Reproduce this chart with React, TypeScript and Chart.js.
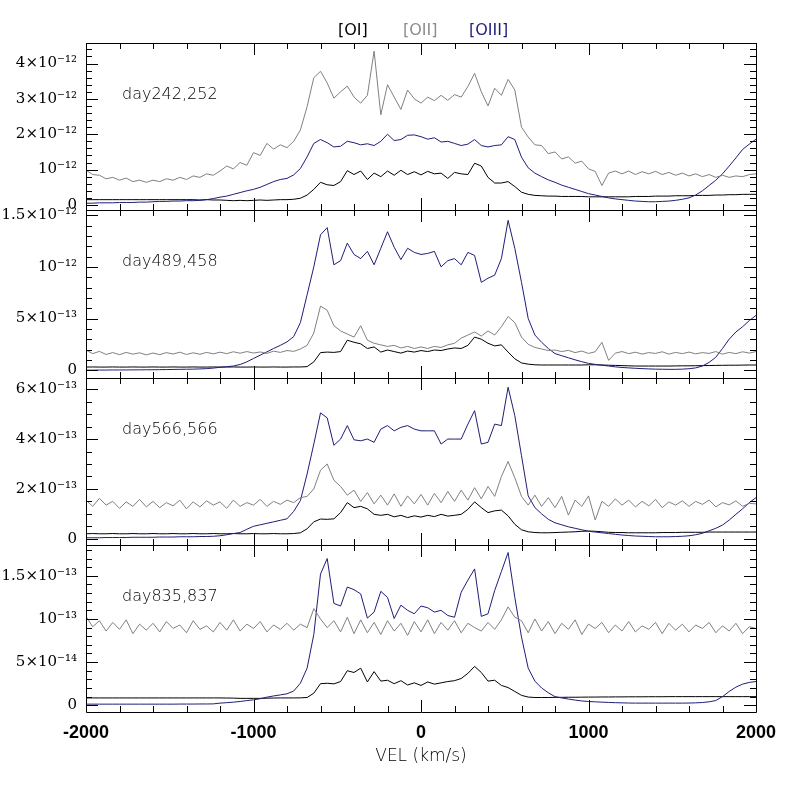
import { useEffect, useRef } from "react";
import { Chart, registerables } from "chart.js";

Chart.register(...registerables);

// velocity grid (km/s)
const VEL = [
  -2000, -1960, -1920, -1880, -1840, -1800, -1760, -1720, -1680, -1640,
  -1600, -1560, -1520, -1480, -1440, -1400, -1360, -1320, -1280, -1240,
  -1200, -1160, -1120, -1080, -1040, -1000, -960, -920, -880, -840,
  -800, -760, -720, -680, -640, -600, -560, -520, -480, -440,
  -400, -360, -320, -280, -240, -200, -160, -120, -80, -40,
  0, 40, 80, 120, 160, 200, 240, 280, 320, 360,
  400, 440, 480, 520, 560, 600, 640, 680, 720, 760,
  800, 840, 880, 920, 960, 1000, 1040, 1080, 1120, 1160,
  1200, 1240, 1280, 1320, 1360, 1400, 1440, 1480, 1520, 1560,
  1600, 1640, 1680, 1720, 1760, 1800, 1840, 1880, 1920, 1960, 2000,
];

// day242,252  (units 1e-12)
const D242_OI = [
  0.15, 0.15, 0.15, 0.15, 0.15, 0.15, 0.15, 0.15, 0.15, 0.15,
  0.15, 0.15, 0.15, 0.15, 0.15, 0.15, 0.15, 0.14, 0.15, 0.14,
  0.14, 0.13, 0.12, 0.13, 0.12, 0.13, 0.14, 0.13, 0.14, 0.15,
  0.15, 0.16, 0.19, 0.28, 0.44, 0.64, 0.57, 0.55, 0.66, 0.97,
  0.86, 0.96, 0.72, 0.9, 0.8, 0.96, 0.84, 0.98, 0.86, 0.94,
  0.85, 0.95, 0.88, 0.9, 0.75, 0.92, 0.88, 0.86, 1.18, 1.1,
  0.78, 0.62, 0.62, 0.66, 0.52, 0.36, 0.3, 0.27, 0.26, 0.25,
  0.25, 0.24, 0.24, 0.24, 0.24, 0.23, 0.23, 0.23, 0.23, 0.23,
  0.23, 0.23, 0.24, 0.24, 0.24, 0.25, 0.25, 0.25, 0.26, 0.26,
  0.26, 0.27, 0.27, 0.27, 0.28, 0.28, 0.29, 0.29, 0.3, 0.3, 0.3,
];
const D242_OII = [
  0.98, 0.86, 0.84, 0.74, 0.78, 0.7, 0.76, 0.66, 0.7, 0.64,
  0.7, 0.66, 0.74, 0.7, 0.78, 0.72, 0.82, 0.78, 0.88, 0.84,
  0.96, 1.1, 1.02, 1.2, 1.12, 1.48, 1.4, 1.74, 1.58, 1.7,
  1.62, 1.8, 2.12, 2.78, 3.6, 3.78, 3.45, 3.02, 3.2, 3.36,
  3.05, 2.88, 3.1, 4.35, 2.55, 3.4, 3.05, 2.7, 3.25, 3.0,
  2.88, 3.05, 2.95, 3.1, 2.96, 3.12, 3.05, 3.35, 3.72, 3.2,
  2.8, 3.3, 3.1, 3.55, 3.25, 2.2, 1.92, 1.7, 1.68, 1.45,
  1.5, 1.3, 1.36, 1.18, 1.24, 1.02, 0.95, 0.55, 0.9, 0.96,
  0.88, 0.96, 0.86, 0.94, 0.88, 0.95, 0.86, 0.92, 0.84, 0.9,
  0.82, 0.88, 0.8, 0.86, 0.78, 0.84, 0.78, 0.82, 0.8, 0.86, 0.88,
];
const D242_OIII = [
  0.05, 0.05, 0.06, 0.06, 0.06, 0.07, 0.07, 0.07, 0.08, 0.08,
  0.09, 0.1, 0.1, 0.11, 0.11, 0.12, 0.12, 0.13, 0.15, 0.18,
  0.22, 0.25, 0.3, 0.35, 0.4, 0.44, 0.5, 0.58, 0.66, 0.72,
  0.75, 0.85, 1.03, 1.36, 1.74, 1.85, 1.76, 1.64, 1.66, 1.8,
  1.76, 1.7, 1.73, 1.68, 1.8, 2.0, 1.82, 1.85, 1.97, 1.98,
  1.93, 1.86, 1.9, 1.78, 1.8, 1.74, 1.68, 1.72, 1.85, 1.68,
  1.64, 1.68, 1.7, 1.93, 1.85, 1.35, 1.05, 0.9, 0.8, 0.71,
  0.64, 0.56, 0.5, 0.44, 0.38, 0.32, 0.28, 0.24, 0.2, 0.17,
  0.15, 0.13, 0.11, 0.1, 0.09, 0.09, 0.1, 0.11, 0.13, 0.16,
  0.2, 0.28, 0.4, 0.55, 0.7, 0.88, 1.1, 1.33, 1.57, 1.72, 1.86,
];

// day489,458  (units 1e-13)
const D489_OI = [
  0.3, 0.31, 0.3, 0.3, 0.31, 0.3, 0.3, 0.31, 0.3, 0.3,
  0.31, 0.3, 0.3, 0.31, 0.3, 0.3, 0.31, 0.3, 0.3, 0.31,
  0.3, 0.3, 0.31, 0.3, 0.3, 0.31, 0.3, 0.3, 0.31, 0.3,
  0.3, 0.31, 0.31, 0.34, 0.8, 1.7, 1.75, 1.72, 1.8, 2.9,
  2.7, 2.55, 2.1, 2.25, 1.75, 1.95, 1.8, 1.65, 1.85, 1.75,
  1.9, 1.8, 1.95, 1.9, 2.05, 2.15, 2.1, 2.4, 3.2, 3.0,
  2.6, 2.35, 2.45, 1.75, 1.1, 0.7, 0.58, 0.52, 0.5, 0.5,
  0.5, 0.5, 0.5, 0.5, 0.5, 0.52, 0.52, 0.5, 0.48, 0.46,
  0.44, 0.42, 0.4, 0.4, 0.4, 0.4, 0.4, 0.4, 0.41, 0.42,
  0.42, 0.43, 0.44, 0.45, 0.46, 0.47, 0.48, 0.48, 0.49, 0.5, 0.5,
];
const D489_OII = [
  1.95, 1.6, 1.82, 1.52, 1.7, 1.5, 1.72, 1.55, 1.68, 1.48,
  1.66, 1.5, 1.7, 1.56, 1.74, 1.52, 1.68, 1.54, 1.72, 1.58,
  1.74, 1.6, 1.78, 1.64, 1.8, 1.66, 1.76, 1.62, 1.84, 1.72,
  1.9, 1.82, 2.05, 2.4, 3.6, 6.2, 5.8, 4.3, 3.8, 3.5,
  3.2, 4.3, 2.9, 2.6, 2.45, 2.3, 2.4, 2.15, 2.3, 2.1,
  2.25, 2.1, 2.3, 2.2, 2.45, 2.6, 3.1, 3.4, 3.7, 3.3,
  3.8, 3.4, 4.2, 5.2, 4.6, 3.2, 2.5, 2.2, 2.05, 1.9,
  1.95, 1.8, 1.92, 1.7, 1.85, 1.62, 1.78, 2.7, 0.95, 1.65,
  1.8, 1.6, 1.74, 1.56, 1.7, 1.62, 1.78, 1.55, 1.72, 1.6,
  1.75, 1.58, 1.7, 1.62, 1.8, 1.55, 1.72, 1.6, 1.78, 1.65, 1.8,
];
const D489_OIII = [
  0.0, 0.0, 0.01, 0.01, 0.02, 0.02, 0.02, 0.03, 0.03, 0.04,
  0.04, 0.05, 0.06, 0.07, 0.08, 0.09, 0.1, 0.12, 0.15, 0.2,
  0.28, 0.34, 0.4, 0.55, 0.8, 1.13, 1.45, 1.77, 2.1, 2.4,
  2.74, 3.25, 4.6, 7.3, 10.0, 13.1, 13.8, 10.2, 10.6, 12.3,
  11.2, 10.8, 11.5, 10.2, 11.8, 13.4, 11.9, 10.7, 11.8, 11.4,
  11.2, 11.3, 11.5, 10.0, 10.6, 10.8, 10.2, 11.4, 11.1, 8.5,
  8.9, 9.2, 10.8, 14.5, 11.8, 8.5, 5.0, 3.4, 2.7, 2.1,
  1.6, 1.4, 1.2, 1.0, 0.82, 0.66, 0.56, 0.48, 0.4, 0.32,
  0.26, 0.22, 0.18, 0.15, 0.12, 0.1, 0.09, 0.08, 0.08, 0.1,
  0.14, 0.22, 0.4, 0.75, 1.25, 2.1, 3.0, 3.7, 4.2, 4.8, 5.3,
];

// day566,566  (units 1e-13)
const D566_OI = [
  0.2, 0.21, 0.2, 0.2, 0.21, 0.2, 0.2, 0.21, 0.2, 0.2,
  0.21, 0.2, 0.2, 0.21, 0.2, 0.2, 0.21, 0.2, 0.2, 0.21,
  0.2, 0.2, 0.21, 0.2, 0.2, 0.21, 0.2, 0.2, 0.21, 0.2,
  0.2, 0.21, 0.24, 0.4, 0.68, 0.79, 0.78, 0.8, 1.05, 1.45,
  1.25, 1.3, 1.2, 0.98, 0.94, 0.98, 0.88, 0.94, 0.85, 0.92,
  0.87, 0.94, 0.89, 0.98, 0.91, 0.94, 0.98, 1.18, 1.48, 1.25,
  1.05, 1.12, 1.15, 0.92, 0.58, 0.36, 0.28, 0.25, 0.24, 0.24,
  0.25, 0.26, 0.27, 0.28, 0.3, 0.31, 0.3, 0.28, 0.26, 0.25,
  0.25, 0.24, 0.24, 0.24, 0.24, 0.24, 0.25, 0.25, 0.25, 0.26,
  0.26, 0.26, 0.26, 0.27, 0.27, 0.27, 0.27, 0.27, 0.27, 0.27, 0.27,
];
const D566_OII = [
  1.55, 1.3, 1.62, 1.35, 1.5, 1.22, 1.48, 1.3, 1.58, 1.28,
  1.5, 1.25, 1.45, 1.32, 1.55, 1.2, 1.48, 1.28, 1.52, 1.35,
  1.48, 1.22, 1.55, 1.3, 1.45, 1.35, 1.58, 1.3, 1.5, 1.38,
  1.55, 1.45, 1.65, 1.7, 2.0, 2.75, 3.0, 2.35, 2.1, 1.75,
  1.95, 1.5, 1.85, 1.4, 1.75, 1.35, 1.8, 1.3, 1.72, 1.4,
  1.78, 1.35, 1.82, 1.45, 1.9, 1.5, 1.95, 1.55, 2.05, 1.6,
  2.1, 1.7, 2.5, 3.1, 2.45, 1.7, 1.35, 1.75, 1.3, 1.65,
  1.25, 1.7, 0.95, 1.55, 1.3, 1.72, 0.75, 1.5, 1.3, 1.6,
  1.35, 1.55, 1.28, 1.5, 1.32, 1.58, 1.25, 1.48, 1.35, 1.52,
  1.3, 1.5, 1.38, 1.55, 1.28, 1.45, 1.36, 1.52, 1.3, 1.42, 1.4,
];
const D566_OIII = [
  0.04, 0.04, 0.04, 0.05, 0.05, 0.05, 0.05, 0.06, 0.06, 0.06,
  0.06, 0.07, 0.07, 0.07, 0.08, 0.08, 0.08, 0.09, 0.09, 0.1,
  0.12, 0.16, 0.21, 0.25, 0.38, 0.5, 0.56, 0.62, 0.68, 0.74,
  0.8, 1.1, 1.53, 2.6, 3.8, 5.05, 4.85, 3.75, 4.0, 4.54,
  3.97, 3.93, 4.0, 3.87, 4.4, 4.54, 4.33, 4.47, 4.54, 4.4,
  4.33, 4.33, 4.33, 3.8, 4.0, 4.0, 4.0, 4.6, 5.14, 3.8,
  3.87, 4.6, 4.54, 6.08, 4.94, 3.33, 1.72, 1.25, 1.0, 0.78,
  0.64, 0.56, 0.48, 0.42, 0.36, 0.3, 0.27, 0.24, 0.21, 0.18,
  0.15, 0.13, 0.11, 0.1, 0.09, 0.08, 0.08, 0.08, 0.09, 0.1,
  0.12, 0.16, 0.22, 0.32, 0.42, 0.55, 0.75, 0.98, 1.2, 1.45, 1.65,
];

// day835,837  (units 1e-14)
const D835_OI = [
  0.85, 0.85, 0.85, 0.85, 0.85, 0.85, 0.85, 0.85, 0.85, 0.85,
  0.85, 0.85, 0.85, 0.85, 0.85, 0.85, 0.85, 0.85, 0.85, 0.85,
  0.85, 0.84, 0.83, 0.8, 0.8, 0.8, 0.8, 0.82, 0.84, 0.85,
  0.85, 0.85, 0.86, 0.9, 1.4, 2.5, 2.55, 2.48, 2.75, 4.0,
  3.8, 4.3, 2.7, 3.9, 2.8, 2.9, 2.5, 2.85, 2.35, 2.6,
  2.3, 2.7, 2.45, 2.6, 2.75, 2.85, 3.1, 3.7, 4.5, 3.8,
  2.8, 2.9, 2.3, 2.05, 1.6, 1.15, 0.95, 0.9, 0.9, 0.9,
  0.92, 0.92, 0.93, 0.93, 0.94, 0.95, 0.95, 0.96, 0.96, 0.97,
  0.97, 0.98, 0.98, 0.98, 0.99, 0.99, 0.99, 1.0, 1.0, 1.0,
  1.0, 1.0, 1.0, 1.0, 1.0, 1.0, 1.0, 1.0, 1.0, 1.0, 1.0,
];
const D835_OII = [
  10.3, 9.1, 9.8, 8.6, 9.6, 8.8, 9.9, 8.3, 9.4, 8.7,
  9.5, 8.5, 9.7, 8.9, 9.3, 8.4, 9.8, 8.8, 9.2, 8.5,
  9.6, 8.7, 9.9, 8.6, 9.4, 8.9, 9.7, 8.5, 9.3, 8.8,
  9.5, 8.7, 9.4, 9.0, 11.2, 10.0, 9.0, 9.8, 8.5, 10.2,
  8.3, 9.9, 8.4, 9.6, 8.2, 9.8, 8.6, 9.5, 8.1, 9.7,
  8.5, 9.9, 8.3, 9.6, 8.7, 9.8, 8.4, 9.5, 9.0, 8.6,
  9.6, 8.8, 9.9, 11.4, 10.2, 9.8, 8.4, 10.0, 8.6, 9.7,
  8.3, 9.5, 8.8, 9.9, 8.2, 9.4, 8.9, 9.6, 8.4, 9.3,
  8.6, 9.7, 8.5, 9.2, 8.8, 9.6, 8.3, 9.5, 8.7, 9.4,
  8.5, 9.3, 8.9, 9.6, 8.4, 9.2, 8.6, 9.5, 8.3, 9.1, 8.9,
];
const D835_OIII = [
  0.13, 0.13, 0.13, 0.13, 0.13, 0.13, 0.13, 0.13, 0.13, 0.13,
  0.13, 0.13, 0.13, 0.13, 0.14, 0.14, 0.14, 0.15, 0.15, 0.16,
  0.25, 0.3, 0.36, 0.44, 0.54, 0.63, 0.76, 0.94, 1.08, 1.2,
  1.33, 1.65, 2.56, 4.3, 8.2, 15.2, 17.0, 11.8, 11.5, 13.7,
  13.4, 12.9, 10.1, 10.8, 13.2, 12.5, 10.05, 11.6, 11.0, 10.6,
  11.5, 11.3, 10.8, 11.0, 10.4, 10.2, 13.1, 14.5, 15.8, 10.3,
  10.6, 13.3, 15.5, 17.7, 12.5, 7.9, 4.3, 2.8, 2.0, 1.45,
  1.0, 0.85, 0.72, 0.6, 0.5, 0.44, 0.4, 0.36, 0.33, 0.3,
  0.28, 0.26, 0.25, 0.25, 0.25, 0.25, 0.25, 0.25, 0.25, 0.25,
  0.26, 0.28, 0.32, 0.4, 0.55, 1.0, 1.6, 2.1, 2.45, 2.65, 2.75,
];

// axis ticks
const X_TICKS = [-2000, -1000, 0, 1000, 2000];
const X_MINOR = [
  -2000, -1800, -1600, -1400, -1200, -1000, -800, -600, -400, -200, 0,
  200, 400, 600, 800, 1000, 1200, 1400, 1600, 1800, 2000,
];
const P1_TICKS = [0, 1, 2, 3, 4];
const P1_LABELS = ["0", "10⁻¹²", "2×10⁻¹²", "3×10⁻¹²", "4×10⁻¹²"];
const P2_TICKS = [0, 5, 10, 15];
const P2_LABELS = ["0", "5×10⁻¹³", "10⁻¹²", "1.5×10⁻¹²"];
const P3_TICKS = [0, 2, 4, 6];
const P3_LABELS = ["0", "2×10⁻¹³", "4×10⁻¹³", "6×10⁻¹³"];
const P4_TICKS = [0, 5, 10, 15];
const P4_LABELS = ["0", "5×10⁻¹⁴", "10⁻¹³", "1.5×10⁻¹³"];

const SERIES = ["[OI]", "[OII]", "[OIII]"];
const COLORS = ["#000000", "#808080", "#1e1e78"];

const PANELS = [
  { label: "day242,252", oi: D242_OI, oii: D242_OII, oiii: D242_OIII, min: -0.15, max: 4.58, ticks: P1_TICKS, labels: P1_LABELS, minor: 0.2 },
  { label: "day489,458", oi: D489_OI, oii: D489_OII, oiii: D489_OIII, min: -0.71, max: 15.48, ticks: P2_TICKS, labels: P2_LABELS, minor: 1 },
  { label: "day566,566", oi: D566_OI, oii: D566_OII, oiii: D566_OIII, min: -0.24, max: 6.47, ticks: P3_TICKS, labels: P3_LABELS, minor: 0.5 },
  { label: "day835,837", oi: D835_OI, oii: D835_OII, oiii: D835_OIII, min: -0.78, max: 18.6, ticks: P4_TICKS, labels: P4_LABELS, minor: 1 },
];

const pts = (arr: number[]) => VEL.map((v, i) => ({ x: v, y: arr[i] }));

const framePlugin = {
  id: "frame",
  afterDatasetsDraw(chart: any) {
    const { ctx, chartArea } = chart;
    const xs = chart.scales.x;
    const l = Math.round(chartArea.left);
    const r = Math.round(chartArea.right);
    ctx.save();
    ctx.strokeStyle = "#000";
    ctx.lineWidth = 1;
    PANELS.forEach((p, k) => {
      const ys = chart.scales["y" + k];
      const top = Math.round(ys.top);
      const bottom = Math.round(ys.bottom);
      ctx.beginPath();
      ctx.rect(l + 0.5, top + 0.5, r - l, bottom - top);
      X_MINOR.forEach((v) => {
        const px = Math.round(xs.getPixelForValue(v)) + 0.5;
        const len = X_TICKS.includes(v) ? 12 : 6;
        ctx.moveTo(px, top);
        ctx.lineTo(px, top + len);
        ctx.moveTo(px, bottom);
        ctx.lineTo(px, bottom - len);
      });
      for (let i = Math.ceil(p.min / p.minor); i * p.minor <= p.max; i++) {
        const v = i * p.minor;
        const py = Math.round(ys.getPixelForValue(v)) + 0.5;
        const len = p.ticks.some((t) => Math.abs(t - v) < 1e-6) ? 12 : 6;
        ctx.moveTo(l, py);
        ctx.lineTo(l + len, py);
        ctx.moveTo(r, py);
        ctx.lineTo(r - len, py);
      }
      ctx.stroke();
      ctx.fillStyle = "#000";
      ctx.font = "300 16px 'DejaVu Sans'";
      ctx.textBaseline = "middle";
      ctx.textAlign = "left";
      ctx.fillText(p.label, l + 36, top + 52);
    });

    // legend line at the top
    ctx.font = "16px 'DejaVu Sans'";
    ctx.textBaseline = "middle";
    const lx = [338, 403, 469];
    SERIES.forEach((s, i) => {
      ctx.fillStyle = i === 1 ? "#8c8c8c" : COLORS[i];
      ctx.fillText(s, lx[i], 31);
    });

    // x title
    ctx.fillStyle = "#000";
    ctx.font = "300 17px 'DejaVu Sans'";
    ctx.textAlign = "center";
    ctx.fillText("VEL (km/s)", (l + r) / 2, 757);
    ctx.restore();
  },
};

export default function App() {
  const canvasRef = useRef<HTMLCanvasElement>(null);
  const chartRef = useRef<any>(null);

  useEffect(() => {
    if (!canvasRef.current) return;
    chartRef.current?.destroy();

    const datasets: any[] = [];
    const scales: any = {
      x: {
        type: "linear",
        min: -2000,
        max: 2000,
        afterBuildTicks: (s: any) => { s.ticks = X_TICKS.map((v) => ({ value: v })); },
        afterFit: (s: any) => { s.height = 85; },
        grid: { display: false, drawTicks: false },
        border: { display: false },
        ticks: {
          color: "#000",
          font: { family: "'Liberation Sans'", size: 18, weight: "bold" },
          padding: 10,
          maxRotation: 0,
          autoSkip: false,
          callback: (v: number) => String(v),
        },
      },
    };

    PANELS.forEach((p, k) => {
      const id = "y" + k;
      datasets.push(
        { label: SERIES[1], data: pts(p.oii), borderColor: COLORS[1], yAxisID: id },
        { label: SERIES[2], data: pts(p.oiii), borderColor: COLORS[2], yAxisID: id },
        { label: SERIES[0], data: pts(p.oi), borderColor: COLORS[0], yAxisID: id },
      );
    });

    // stacked axes are laid out bottom-up, so add the lowest panel first
    for (let k = PANELS.length - 1; k >= 0; k--) {
      const p = PANELS[k];
      scales["y" + k] = {
        type: "linear",
        position: "left",
        stack: "spec",
        stackWeight: 1,
        min: p.min,
        max: p.max,
        afterBuildTicks: (s: any) => { s.ticks = p.ticks.map((v) => ({ value: v })); },
        afterFit: (s: any) => { s.width = 86; },
        grid: { display: false, drawTicks: false },
        border: { display: false },
        ticks: {
          color: "#000",
          font: { family: "'DejaVu Serif'", size: 15 },
          padding: 9,
          autoSkip: false,
          callback: (v: number) => {
            const i = p.ticks.findIndex((t) => Math.abs(t - v) < 1e-6);
            return i >= 0 ? p.labels[i] : "";
          },
        },
      };
    }

    chartRef.current = new Chart(canvasRef.current, {
      type: "line",
      data: { datasets },
      options: {
        responsive: false,
        maintainAspectRatio: false,
        animation: false,
        devicePixelRatio: 1,
        layout: { padding: { top: 43, right: 41, left: 0, bottom: 0 } },
        elements: {
          line: { borderWidth: 1, tension: 0 },
          point: { radius: 0, hoverRadius: 0 },
        },
        plugins: { legend: { display: false }, tooltip: { enabled: false } },
        scales,
      },
      plugins: [framePlugin],
    } as any);

    return () => { chartRef.current?.destroy(); chartRef.current = null; };
  }, []);

  return (
    <div style={{ position: "absolute", left: 0, top: 0, width: 797, height: 797, background: "#fff" }}>
      <canvas ref={canvasRef} width={797} height={797} />
    </div>
  );
}
